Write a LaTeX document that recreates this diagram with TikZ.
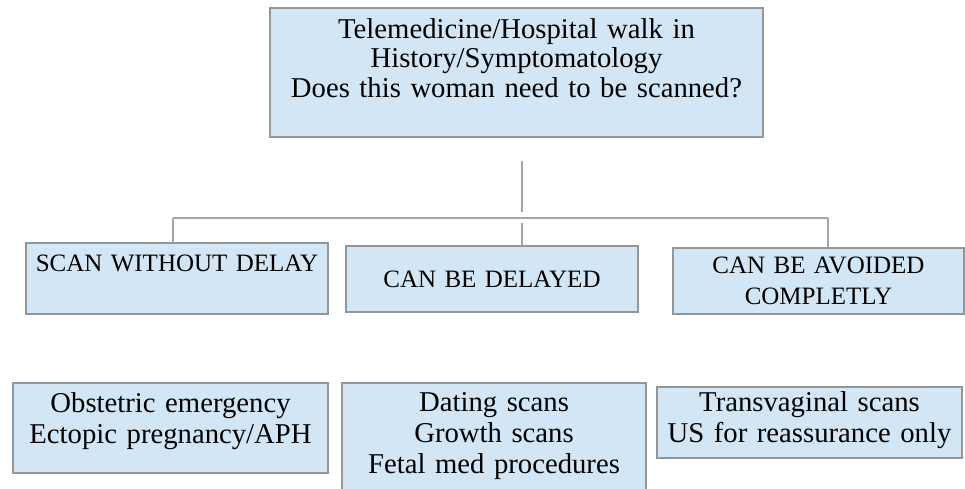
\documentclass[tikz,border=0pt]{standalone}
\usepackage{fontspec}
\setmainfont{Liberation Serif}
\definecolor{boxfill}{RGB}{210,230,245}
\definecolor{boxline}{RGB}{150,150,150}
\definecolor{treeline}{RGB}{165,165,165}
\newcommand{\padbelow}[1]{\endgraf\vspace{#1}}
\begin{document}
\begin{tikzpicture}[x=1pt,y=-1pt,
		box/.style={draw=boxline,fill=boxfill,line width=1.5pt,inner sep=0pt,align=center},
		lower/.style={font=\fontsize{28.7pt}{31pt}\selectfont},
		caps/.style={font=\fontsize{25pt}{31pt}\selectfont},
		toppad/.style={execute at end node={\padbelow{#1}}},
		link/.style={draw=treeline,line width=1.5pt}]
		\clip (0,0) rectangle (965,488);
		\node[box,font=\fontsize{28.7pt}{29.5pt}\selectfont,text width=493pt,minimum height=129pt,toppad=29pt] (ask) at (516.5,72.5) {Telemedicine/Hospital walk in\\ History/Symptomatology\\ Does this woman need to be scanned?};
		\node[box,caps,text width=302pt,minimum height=71pt,toppad=30.8pt] (scan) at (177,278.5) {SCAN WITHOUT DELAY};
		\node[box,caps,text width=292pt,minimum height=66pt] (delay) at (492,279) {CAN BE DELAYED};
		\node[box,caps,text width=291pt,minimum height=66pt] (avoid) at (818.5,281) {CAN BE AVOIDED\\ COMPLETLY};
		\node[box,lower,text width=315pt,minimum height=90pt,toppad=14pt] (urgent) at (170.5,428) {Obstetric emergency\\ Ectopic pregnancy/APH};
		\node[box,lower,text width=304pt,minimum height=126pt,toppad=19.4pt] (later) at (494,446) {Dating scans\\ Growth scans\\ Fetal med procedures};
		\node[box,lower,text width=305pt,minimum height=71pt,toppad=4pt] (optional) at (809.5,422.5) {Transvaginal scans\\ US for reassurance only};
		\coordinate (hub) at (522,218);
		\coordinate (lend) at (173,218);
		\coordinate (rend) at (828,218);
		\draw[link,shorten <=23pt,shorten >=6pt] (ask.south -| hub) -- (hub);
		\draw[link] (lend) -- (rend);
		\draw[link] (lend) -- (lend |- scan.north);
		\draw[link,shorten <=5pt] (hub) -- (hub |- delay.north);
		\draw[link] (rend) -- (rend |- avoid.north);
\end{tikzpicture}
\end{document}
